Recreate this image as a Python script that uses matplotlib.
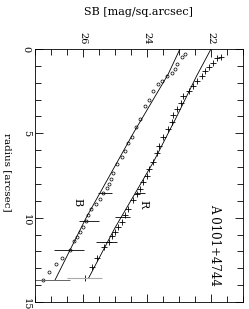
import matplotlib
matplotlib.use("Agg")
import matplotlib.pyplot as plt
from matplotlib.ticker import MultipleLocator

# B band profile (surface brightness vs radius)
b_r = [0.3, 0.5, 0.9, 1.2, 1.45, 1.6, 1.9, 2.05, 2.5, 3.0, 3.4, 4.15, 4.6, 5.2, 5.6,
       6.05, 6.4, 6.8, 7.35, 7.7, 8.0, 8.25, 8.55, 8.9, 9.2, 9.5, 9.85, 10.2, 10.55,
       10.85, 11.15, 11.4, 11.9, 12.37, 12.75, 13.25, 13.72]
b_sb = [22.8, 22.9, 23.05, 23.12, 23.23, 23.38, 23.54, 23.65, 23.8, 23.93, 24.06, 24.22,
        24.34, 24.46, 24.59, 24.69, 24.79, 24.93, 25.05, 25.12, 25.18, 25.26, 25.37, 25.47,
        25.6, 25.74, 25.85, 25.9, 26.0, 26.1, 26.18, 26.28, 26.42, 26.65, 26.83, 27.05, 27.24]
b_fit_r = [0, 1.5, 5, 10, 13.7]
b_fit_sb = [22.97, 23.34, 24.43, 25.9, 26.875]
b_err_r = [8.53, 10.2, 11.9, 13.72]
b_err_sb = [25.31, 25.81, 26.44, 27.25]
b_err = [0.22, 0.31, 0.47, 0.84]

# R band profile
r_r = [0.45, 0.55, 0.84, 1.04, 1.33, 1.63, 1.92, 2.2, 2.5, 2.8, 3.2, 3.55, 3.94, 4.3, 4.76,
       5.2, 5.75, 6.14, 6.72, 7.1, 7.5, 7.9, 8.3, 8.6, 8.98, 9.47, 9.86, 10.25, 10.55,
       10.84, 11.1, 11.43, 11.72, 12.37, 12.9, 13.55]
r_sb = [21.7, 21.82, 21.93, 22.05, 22.19, 22.29, 22.45, 22.55, 22.68, 22.87, 22.95, 23.05,
        23.2, 23.22, 23.33, 23.49, 23.62, 23.7, 23.8, 23.93, 24.01, 24.13, 24.22, 24.32,
        24.43, 24.58, 24.69, 24.79, 24.9, 25.0, 25.1, 25.2, 25.34, 25.57, 25.73, 25.94]
r_fit_r = [0, 1.6, 4.0, 6.7, 10.6, 13.6]
r_fit_sb = [22.0, 22.45, 23.07, 23.8, 25.0, 25.83]
r_err_r = [8.53, 9.96, 11.43, 13.6]
r_err_sb = [24.22, 24.77, 25.27, 25.95]
r_err = [0.16, 0.23, 0.33, 0.55]

plt.rcParams['font.family'] = 'DejaVu Serif'

fig = plt.figure(figsize=(2.49, 3.09), dpi=100)
ax = fig.add_axes([35 / 249, 1 - 302 / 309, 208 / 249, 253 / 309])

ax.plot(b_sb, b_r, 'o', mfc='none', mec='black', ms=2.2, mew=0.5)
ax.plot(b_fit_sb, b_fit_r, '-', color='black', lw=0.6)
ax.plot(r_sb, r_r, '+', color='black', ms=4, mew=0.6)
ax.plot(r_fit_sb, r_fit_r, '-', color='black', lw=0.6)

# horizontal error bars, last one of each band drawn in grey
ax.errorbar(b_err_sb[:-1], b_err_r[:-1], xerr=b_err[:-1], fmt='none', ecolor='black', elinewidth=0.6)
ax.errorbar(b_err_sb[-1:], b_err_r[-1:], xerr=b_err[-1:], fmt='none', ecolor='#666666', elinewidth=0.7)
ax.errorbar(r_err_sb[:-1], r_err_r[:-1], xerr=r_err[:-1], fmt='none', ecolor='black', elinewidth=0.6)
ax.errorbar(r_err_sb[-1:], r_err_r[-1:], xerr=r_err[-1:], fmt='none', ecolor='#aaaaaa', elinewidth=0.8)

ax.set_xlim(27.5, 21)
ax.set_ylim(15, 0)

ax.xaxis.set_major_locator(MultipleLocator(2))
ax.xaxis.set_minor_locator(MultipleLocator(0.5))
ax.yaxis.set_major_locator(MultipleLocator(5))
ax.yaxis.set_minor_locator(MultipleLocator(1))
ax.tick_params(which='both', direction='in', top=True, bottom=True, left=True, right=True,
               labeltop=True, labelbottom=False, width=0.6, labelsize=7, pad=3)
ax.tick_params(which='major', length=6)
ax.tick_params(which='minor', length=4)
for lab in ax.get_xticklabels() + ax.get_yticklabels():
    lab.set_rotation(-90)
for lab in ax.get_xticklabels():
    lab.set_va('bottom')
for lab in ax.get_yticklabels():
    lab.set_ha('right')
for sp in ax.spines.values():
    sp.set_linewidth(0.6)

ax.text(26.19, 9.1, 'B', rotation=-90, ha='center', va='center', fontsize=8)
ax.text(24.12, 9.2, 'R', rotation=-90, ha='center', va='center', fontsize=8)
ax.text(21.9, 9.2, 'A 0101+4744', rotation=-90, ha='center', va='top', fontsize=8.5)

fig.text(138 / 249, 1 - 12 / 309, 'SB [mag/sq.arcsec]', ha='center', va='center', fontsize=8)
fig.text(7 / 249, 1 - 172 / 309, 'radius [arcsec]', rotation=-90, ha='center', va='center', fontsize=7.5)

fig.savefig('out.png', dpi=100)
